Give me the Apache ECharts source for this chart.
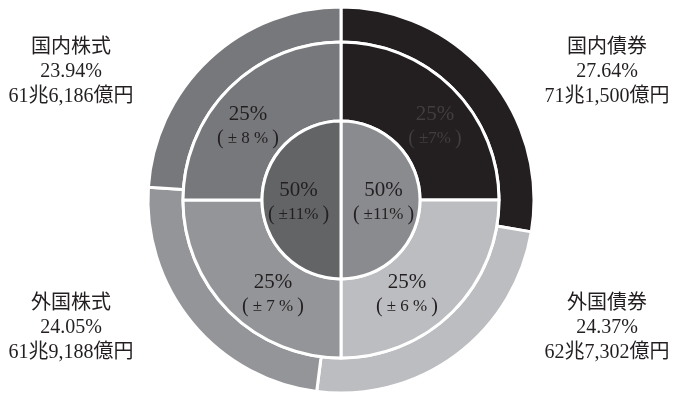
<!DOCTYPE html>
<html><head><meta charset="utf-8">
<script src="https://cdn.jsdelivr.net/npm/echarts@6/dist/echarts.min.js"></script>
<style>html,body{margin:0;padding:0;background:#fff}#c{width:673px;height:394px}</style>
</head><body><div id="c"></div>
<script>
// Outer ring: actual allocation
const outerNames = ['国内債券', '外国債券', '外国株式', '国内株式'];
const outerValues = [27.64, 24.37, 24.05, 23.94];
const outerAmounts = ['71兆1,500億円', '62兆7,302億円', '61兆9,188億円', '61兆6,186億円'];
// Middle ring: target allocation
const midValues = [25, 25, 25, 25];
const midRanges = ['±7%', '± 6 %', '± 7 %', '± 8 %'];
// Inner circle: bonds / equities
const innerNames = ['債券', '株式'];
const innerValues = [50, 50];
const innerRanges = ['±11%', '±11%'];

const colors4 = ['#231f20', '#bcbdc0', '#939598', '#77787b'];
const colors2 = ['#8a8b8e', '#636466'];
const midTextColors = ['#423e3f', '#231f20', '#231f20', '#231f20'];
const FONT = "'Liberation Serif','Noto Sans CJK JP',serif";

const outerLabelPos = [[607, 72], [607, 328], [71, 328], [71, 72]];
const midLabelPos = [[435, 126], [407, 294], [273, 294], [248, 126]];

function richFor(col) {
  return {
    a: { fontSize: 21, lineHeight: 25, fontFamily: FONT, color: col },
    b: { fontSize: 17, lineHeight: 23, fontFamily: FONT, color: col },
    l: { fontSize: 20, lineHeight: 23, fontFamily: FONT, color: col, padding: [0, 4, 0, 2] },
    r: { fontSize: 20, lineHeight: 23, fontFamily: FONT, color: col, padding: [0, 2, 0, 4] }
  };
}

const chart = echarts.init(document.getElementById('c'));
chart.setOption({
  animation: false,
  series: [
    {
      type: 'pie', center: [341, 200], radius: [158, 193], startAngle: 90, silent: true,
      itemStyle: { borderColor: '#fff', borderWidth: 3 },
      data: outerNames.map((n, i) => ({ name: n, value: outerValues[i], itemStyle: { color: colors4[i] } })),
      label: {
        show: true, position: 'outside', color: '#231f20', fontFamily: FONT, fontSize: 20, lineHeight: 24.5, align: 'center',
        formatter: p => p.name + '\n' + outerValues[p.dataIndex].toFixed(2) + '%\n' + outerAmounts[p.dataIndex]
      },
      labelLine: { show: false },
      labelLayout: p => ({ x: outerLabelPos[p.dataIndex][0], y: outerLabelPos[p.dataIndex][1], align: 'center', verticalAlign: 'middle' })
    },
    {
      type: 'pie', center: [341, 200], radius: [79, 158], startAngle: 90, silent: true,
      itemStyle: { borderColor: '#fff', borderWidth: 3 },
      data: outerNames.map((n, i) => ({
        name: n, value: midValues[i], itemStyle: { color: colors4[i] },
        label: { rich: richFor(midTextColors[i]) }
      })),
      label: {
        show: true, position: 'inside', fontFamily: FONT, align: 'center',
        formatter: p => '{a|' + midValues[p.dataIndex] + '%}\n{l|(}{b|' + midRanges[p.dataIndex] + '}{r|)}'
      },
      labelLayout: p => ({ x: midLabelPos[p.dataIndex][0], y: midLabelPos[p.dataIndex][1], align: 'center', verticalAlign: 'middle' })
    },
    {
      type: 'pie', center: [341, 200], radius: [0, 79], startAngle: 90, silent: true,
      itemStyle: { borderColor: '#fff', borderWidth: 3 },
      data: innerNames.map((n, i) => ({ name: n, value: innerValues[i], itemStyle: { color: colors2[i] } })),
      label: {
        show: true, position: 'inside', fontFamily: FONT, align: 'center',
        formatter: p => '{a|' + innerValues[p.dataIndex] + '%}\n{l|(}{b|' + innerRanges[p.dataIndex] + '}{r|)}',
        rich: richFor('#231f20')
      },
      labelLayout: p => ({ dy: 2 })
    }
  ]
});
</script></body></html>
